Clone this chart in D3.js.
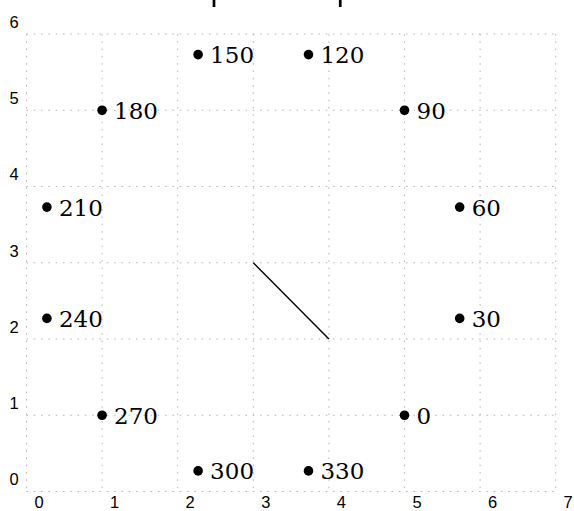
<!DOCTYPE html>
<html>
<head>
<meta charset="utf-8">
<script src="https://cdn.jsdelivr.net/npm/d3@7"></script>
<style>
  html, body { margin: 0; padding: 0; background: #fff; }
  svg { display: block; }
</style>
</head>
<body>
<svg id="chart" width="574" height="511"></svg>
<script>
// ---- data ----
const pointLabels = ["0", "30", "60", "90", "120", "150", "180", "210", "240", "270", "300", "330"];
const pointX = [5, 5.73, 5.73, 5, 3.73, 2.27, 1, 0.27, 0.27, 1, 2.27, 3.73];
const pointY = [1, 2.27, 3.73, 5, 5.73, 5.73, 5, 3.73, 2.27, 1, 0.27, 0.27];
const lineX = [3, 4];
const lineY = [3, 2];
const topMarkX = [2.48, 4.15];
const xTicks = [0, 1, 2, 3, 4, 5, 6, 7];
const yTicks = [0, 1, 2, 3, 4, 5, 6];

// ---- drawing ----
const svg = d3.select("#chart");
const x = d3.scaleLinear().domain([0, 7]).range([26.5, 555.7]);
const y = d3.scaleLinear().domain([0, 6]).range([491.5, 34]);

const grid = svg.append("g")
  .attr("stroke", "#b4b4b4")
  .attr("stroke-width", 1)
  .attr("stroke-dasharray", "1.5,5.8");

grid.selectAll("line.v").data(xTicks).join("line")
  .attr("class", "v")
  .attr("x1", d => x(d)).attr("x2", d => x(d))
  .attr("y1", y(6)).attr("y2", y(0));

grid.selectAll("line.h").data(yTicks).join("line")
  .attr("class", "h")
  .attr("y1", d => y(d)).attr("y2", d => y(d))
  .attr("x1", x(0)).attr("x2", x(7));

// tick labels (offset from grid lines as in reference)
svg.append("g").selectAll("text").data(xTicks).join("text")
  .attr("x", d => x(d) + 12.5)
  .attr("y", y(0) + 10.5)
  .attr("dy", "0.35em")
  .attr("text-anchor", "middle")
  .attr("font-family", "'Liberation Sans', Arial, sans-serif")
  .attr("font-size", 16.5)
  .attr("fill", "#000")
  .text(d => d);

svg.append("g").selectAll("text").data(yTicks).join("text")
  .attr("x", x(0) - 12.5)
  .attr("y", d => y(d) - 12)
  .attr("dy", "0.35em")
  .attr("text-anchor", "middle")
  .attr("font-family", "'Liberation Sans', Arial, sans-serif")
  .attr("font-size", 16.5)
  .attr("fill", "#000")
  .text(d => d);

// hand line
svg.append("line")
  .attr("x1", x(lineX[0])).attr("y1", y(lineY[0]))
  .attr("x2", x(lineX[1])).attr("y2", y(lineY[1]))
  .attr("stroke", "#000")
  .attr("stroke-width", 1.4);

// top marks
svg.append("g").selectAll("line").data(topMarkX).join("line")
  .attr("x1", d => x(d)).attr("x2", d => x(d))
  .attr("y1", 0).attr("y2", 7)
  .attr("stroke", "#000")
  .attr("stroke-width", 2.7);

// points
const pts = pointLabels.map((l, i) => ({ label: l, x: pointX[i], y: pointY[i] }));
svg.append("g").selectAll("circle").data(pts).join("circle")
  .attr("cx", d => x(d.x))
  .attr("cy", d => y(d.y))
  .attr("r", 4.8)
  .attr("fill", "#000");

svg.append("g").selectAll("text").data(pts).join("text")
  .attr("x", d => x(d.x) + 12)
  .attr("y", d => y(d.y) + 8.5)
  .attr("font-family", "'DejaVu Serif', serif")
  .attr("font-size", 23)
  .attr("fill", "#000")
  .text(d => d.label);
</script>
</body>
</html>
